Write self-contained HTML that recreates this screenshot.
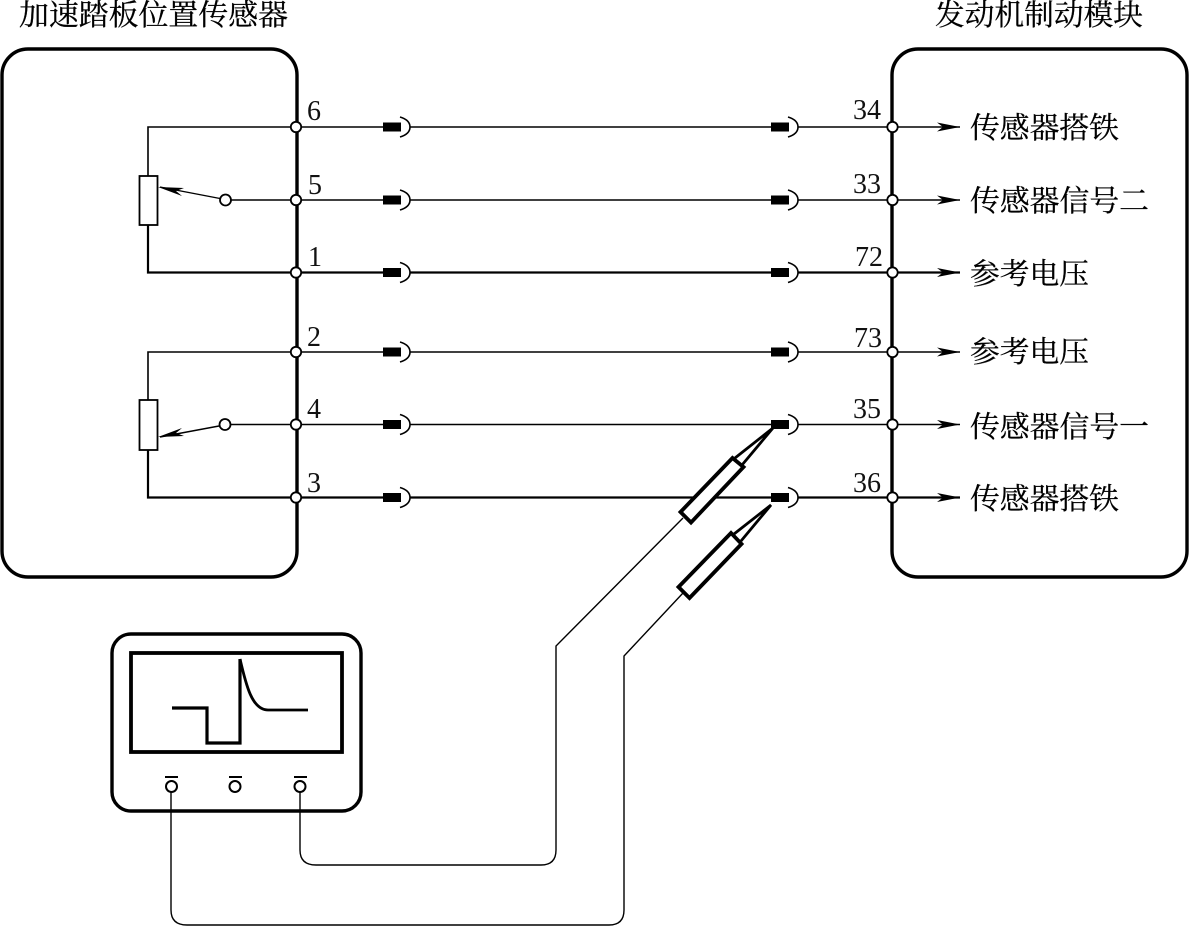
<!DOCTYPE html>
<html>
<head>
<meta charset="utf-8">
<style>
html,body{margin:0;padding:0;background:#fff;}
svg{display:block;}
.cjk{font-family:"Liberation Serif","Noto Serif CJK SC",serif;font-size:29.5px;fill:#000;stroke:#000;stroke-width:.25px;}
.num{font-family:"Liberation Serif",serif;font-size:28px;fill:#111;}
</style>
</head>
<body>
<svg width="1189" height="926" viewBox="0 0 1189 926" xmlns="http://www.w3.org/2000/svg">
<defs>
<g id="conn">
  <rect x="0" y="-4.5" width="18" height="9" fill="#000"/>
  <path d="M17,-10 Q27,-7 27,0 Q27,7 17,10" fill="none" stroke="#000" stroke-width="1.6"/>
</g>
<g id="arr">
  <path d="M45,-4.500 L68,0 L45,4.500 L51,0 Z" fill="#000"/>
</g>
</defs>
<rect width="1189" height="926" fill="#fff"/>

<text class="cjk" x="19" y="25" textLength="269" lengthAdjust="spacingAndGlyphs">加速踏板位置传感器</text>
<text class="cjk" x="935" y="25" textLength="208" lengthAdjust="spacingAndGlyphs">发动机制动模块</text>

<rect x="2" y="49" width="295" height="528" rx="26" fill="none" stroke="#000" stroke-width="3.400"/>
<rect x="892" y="49" width="295" height="528" rx="26" fill="none" stroke="#000" stroke-width="3.400"/>

<g stroke="#000" fill="none">
  <path d="M148,176 V127 H296" stroke-width="1.600"/>
  <path d="M148,225 V272.500 H296" stroke-width="2.200"/>
  <path d="M231,200 H296" stroke-width="1.400"/>
  <path d="M148,400 V352 H296" stroke-width="1.600"/>
  <path d="M148,450 V497.500 H296" stroke-width="2.200"/>
  <path d="M231,424.500 H296" stroke-width="1.400"/>
  <path d="M296,127 H383 M410,127 H771 M798,127 H960" stroke-width="1.400"/>
  <path d="M296,200 H383 M410,200 H771 M798,200 H960" stroke-width="1.400"/>
  <path d="M296,272.500 H383 M410,272.500 H771 M798,272.500 H960" stroke-width="2.200"/>
  <path d="M296,352 H383 M410,352 H771 M798,352 H960" stroke-width="1.400"/>
  <path d="M296,424.500 H383 M410,424.500 H771 M798,424.500 H960" stroke-width="1.400"/>
  <path d="M296,497.500 H383 M410,497.500 H771 M798,497.500 H960" stroke-width="2.200"/>
</g>

<g fill="#fff" stroke="#000" stroke-width="1.800">
  <rect x="139.500" y="176" width="18" height="49"/>
  <rect x="139.500" y="400" width="18" height="50"/>
</g>

<g stroke="#000" stroke-width="1.400" fill="none">
  <path d="M220,198.500 L160,187"/>
  <path d="M219,426 L160,437"/>
</g>
<path d="M158,187 L184,188 L176,191 L182,196 Z" fill="#000"/>
<path d="M158,437 L182,428 L176,433 L184,436 Z" fill="#000"/>
<circle cx="225.500" cy="200" r="5.500" fill="#fff" stroke="#000" stroke-width="1.800"/>
<circle cx="225" cy="424.500" r="5.500" fill="#fff" stroke="#000" stroke-width="1.800"/>

<use href="#conn" x="383" y="127"/><use href="#conn" x="771" y="127"/>
<use href="#conn" x="383" y="200"/><use href="#conn" x="771" y="200"/>
<use href="#conn" x="383" y="272.500"/><use href="#conn" x="771" y="272.500"/>
<use href="#conn" x="383" y="352"/><use href="#conn" x="771" y="352"/>
<use href="#conn" x="383" y="424.500"/><use href="#conn" x="771" y="424.500"/>
<use href="#conn" x="383" y="497.500"/><use href="#conn" x="771" y="497.500"/>

<use href="#arr" x="892" y="127"/><use href="#arr" x="892" y="200"/>
<use href="#arr" x="892" y="272.500"/><use href="#arr" x="892" y="352"/>
<use href="#arr" x="892" y="424.500"/><use href="#arr" x="892" y="497.500"/>

<g fill="#fff" stroke="#000" stroke-width="1.800">
  <circle cx="296" cy="127" r="5.200"/><circle cx="296" cy="200" r="5.200"/>
  <circle cx="296" cy="272.500" r="5.200"/><circle cx="296" cy="352" r="5.200"/>
  <circle cx="296" cy="424.500" r="5.200"/><circle cx="296" cy="497.500" r="5.200"/>
  <circle cx="892.500" cy="127" r="5.200"/><circle cx="892.500" cy="200" r="5.200"/>
  <circle cx="892.500" cy="272.500" r="5.200"/><circle cx="892.500" cy="352" r="5.200"/>
  <circle cx="892.500" cy="424.500" r="5.200"/><circle cx="892.500" cy="497.500" r="5.200"/>
</g>

<text class="num" x="307" y="120">6</text>
<text class="num" x="308" y="194">5</text>
<text class="num" x="308" y="266">1</text>
<text class="num" x="307" y="346">2</text>
<text class="num" x="307" y="418">4</text>
<text class="num" x="307" y="492">3</text>
<text class="num" x="853" y="119">34</text>
<text class="num" x="853" y="193">33</text>
<text class="num" x="855" y="266">72</text>
<text class="num" x="854" y="347">73</text>
<text class="num" x="853" y="418">35</text>
<text class="num" x="853" y="492">36</text>

<text class="cjk" x="970" y="138" textLength="149" lengthAdjust="spacingAndGlyphs">传感器搭铁</text>
<text class="cjk" x="970" y="211" textLength="179" lengthAdjust="spacingAndGlyphs">传感器信号二</text>
<text class="cjk" x="970" y="284" textLength="119" lengthAdjust="spacingAndGlyphs">参考电压</text>
<text class="cjk" x="970" y="362" textLength="119" lengthAdjust="spacingAndGlyphs">参考电压</text>
<text class="cjk" x="970" y="437" textLength="179" lengthAdjust="spacingAndGlyphs">传感器信号一</text>
<text class="cjk" x="970" y="509" textLength="149" lengthAdjust="spacingAndGlyphs">传感器搭铁</text>

<path d="M680.500,512 L691,522.500 L743.500,467 L732.500,458 Z" fill="#fff" stroke="#000" stroke-width="3.800"/>
<path d="M678.500,587 L689.500,598 L741.500,544 L731,533 Z" fill="#fff" stroke="#000" stroke-width="3.800"/>
<g fill="none" stroke="#000" stroke-width="2.800" stroke-linejoin="miter">
  <path d="M735,458 L773,428 L742,465"/>
  <path d="M734,534 L771,505 L741,541"/>
</g>

<rect x="112" y="634" width="249" height="177" rx="19" fill="#fff" stroke="#000" stroke-width="3.400"/>
<rect x="131" y="653" width="211" height="99" fill="none" stroke="#000" stroke-width="3.800"/>
<path d="M172,708 H207 V743 H240 V659" fill="none" stroke="#000" stroke-width="3.200"/>
<path d="M240,659 C246,685 252,710 268,710 H308" fill="none" stroke="#000" stroke-width="2.800"/>

<g fill="none" stroke="#000" stroke-width="1.400">
  <path d="M683,518 L556,646 V850 Q556,865 541,865 H316 Q300,865 300,850 V791"/>
  <path d="M683,593 L624,656 V910 Q624,925 609,925 H187 Q171,925 171,910 V792"/>
</g>

<g fill="#fff" stroke="#000" stroke-width="2">
  <circle cx="171.500" cy="786.500" r="5.500"/>
  <circle cx="235" cy="786.500" r="5.500"/>
  <circle cx="300" cy="786.500" r="5.500"/>
</g>
<g stroke="#000" stroke-width="2">
  <path d="M165,777 H178 M229,777 H242 M294,777 H307"/>
</g>
</svg>
</body>
</html>
